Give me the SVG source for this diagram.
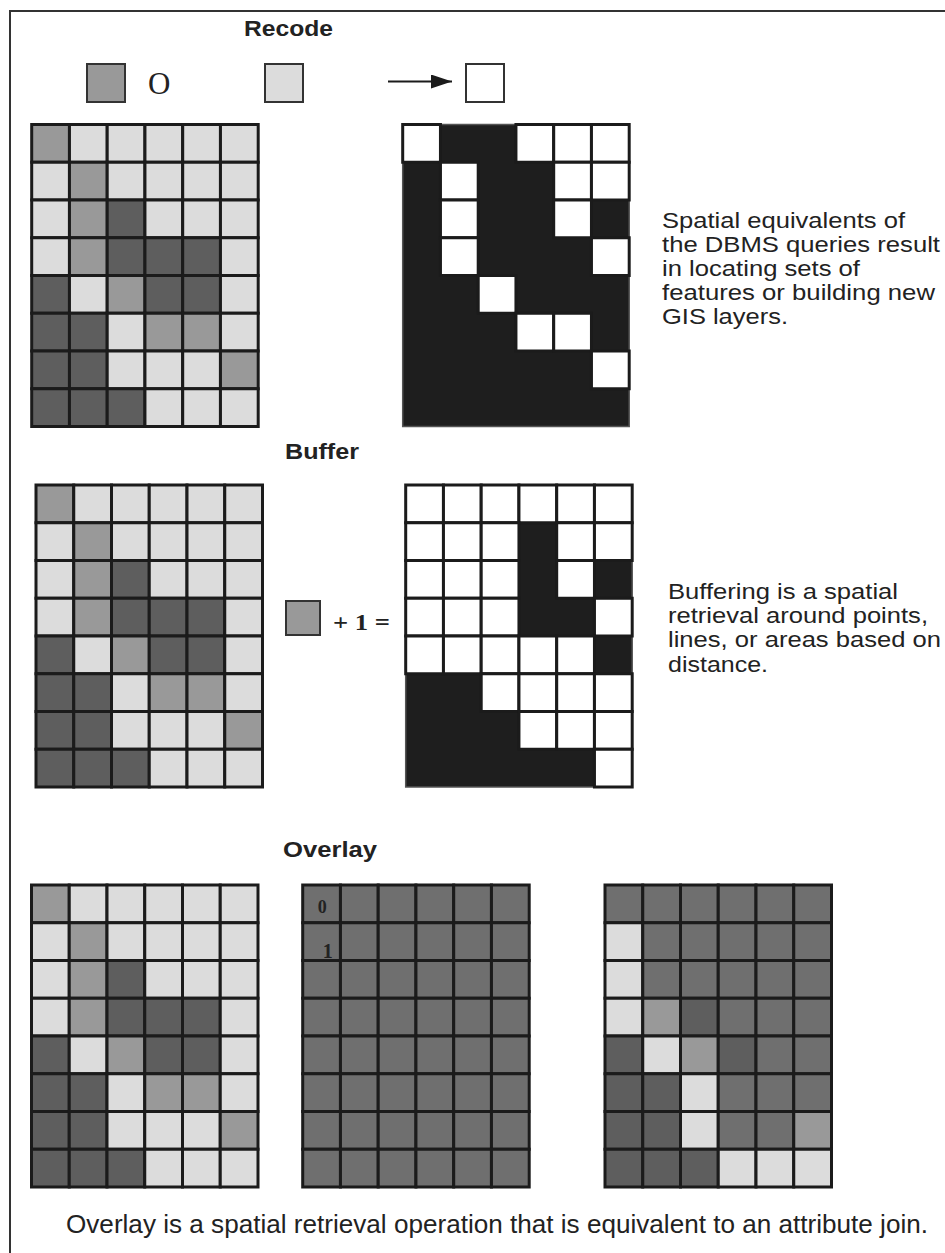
<svg xmlns="http://www.w3.org/2000/svg" xmlns:xlink="http://www.w3.org/1999/xlink" width="945" height="1253" viewBox="0 0 945 1253">
<style>
.c{stroke:#1b1b1b;stroke-width:3}
.L{fill:#dcdcdc}
.M{fill:#999999}
.D{fill:#5e5e5e}
.G{fill:#6f6f6f}
.W{fill:#ffffff}
.bg{fill:#1e1e1e;stroke:#555;stroke-width:1.5}
.title{font-family:"Liberation Sans",Arial,sans-serif;font-weight:bold;font-size:22px;fill:#222}
.body{font-family:"Liberation Sans",Arial,sans-serif;font-size:22.5px;fill:#222}
.serif{font-family:"Liberation Serif","Times New Roman",serif;fill:#222}
.sw{stroke:#333;stroke-width:2}
</style>
<defs>
<marker id="ah" viewBox="0 0 21 14" refX="21" refY="7" markerWidth="21" markerHeight="14" markerUnits="userSpaceOnUse" orient="auto">
<path d="M0,0 L21,7 L0,14 z" fill="#1b1b1b"/>
</marker>
<g id="src">
<rect class="c M" x="0" y="0" width="37.75" height="37.75"/><rect class="c L" x="37.75" y="0" width="37.75" height="37.75"/><rect class="c L" x="75.5" y="0" width="37.75" height="37.75"/><rect class="c L" x="113.25" y="0" width="37.75" height="37.75"/><rect class="c L" x="151" y="0" width="37.75" height="37.75"/><rect class="c L" x="188.75" y="0" width="37.75" height="37.75"/>
<rect class="c L" x="0" y="37.75" width="37.75" height="37.75"/><rect class="c M" x="37.75" y="37.75" width="37.75" height="37.75"/><rect class="c L" x="75.5" y="37.75" width="37.75" height="37.75"/><rect class="c L" x="113.25" y="37.75" width="37.75" height="37.75"/><rect class="c L" x="151" y="37.75" width="37.75" height="37.75"/><rect class="c L" x="188.75" y="37.75" width="37.75" height="37.75"/>
<rect class="c L" x="0" y="75.5" width="37.75" height="37.75"/><rect class="c M" x="37.75" y="75.5" width="37.75" height="37.75"/><rect class="c D" x="75.5" y="75.5" width="37.75" height="37.75"/><rect class="c L" x="113.25" y="75.5" width="37.75" height="37.75"/><rect class="c L" x="151" y="75.5" width="37.75" height="37.75"/><rect class="c L" x="188.75" y="75.5" width="37.75" height="37.75"/>
<rect class="c L" x="0" y="113.25" width="37.75" height="37.75"/><rect class="c M" x="37.75" y="113.25" width="37.75" height="37.75"/><rect class="c D" x="75.5" y="113.25" width="37.75" height="37.75"/><rect class="c D" x="113.25" y="113.25" width="37.75" height="37.75"/><rect class="c D" x="151" y="113.25" width="37.75" height="37.75"/><rect class="c L" x="188.75" y="113.25" width="37.75" height="37.75"/>
<rect class="c D" x="0" y="151" width="37.75" height="37.75"/><rect class="c L" x="37.75" y="151" width="37.75" height="37.75"/><rect class="c M" x="75.5" y="151" width="37.75" height="37.75"/><rect class="c D" x="113.25" y="151" width="37.75" height="37.75"/><rect class="c D" x="151" y="151" width="37.75" height="37.75"/><rect class="c L" x="188.75" y="151" width="37.75" height="37.75"/>
<rect class="c D" x="0" y="188.75" width="37.75" height="37.75"/><rect class="c D" x="37.75" y="188.75" width="37.75" height="37.75"/><rect class="c L" x="75.5" y="188.75" width="37.75" height="37.75"/><rect class="c M" x="113.25" y="188.75" width="37.75" height="37.75"/><rect class="c M" x="151" y="188.75" width="37.75" height="37.75"/><rect class="c L" x="188.75" y="188.75" width="37.75" height="37.75"/>
<rect class="c D" x="0" y="226.5" width="37.75" height="37.75"/><rect class="c D" x="37.75" y="226.5" width="37.75" height="37.75"/><rect class="c L" x="75.5" y="226.5" width="37.75" height="37.75"/><rect class="c L" x="113.25" y="226.5" width="37.75" height="37.75"/><rect class="c L" x="151" y="226.5" width="37.75" height="37.75"/><rect class="c M" x="188.75" y="226.5" width="37.75" height="37.75"/>
<rect class="c D" x="0" y="264.25" width="37.75" height="37.75"/><rect class="c D" x="37.75" y="264.25" width="37.75" height="37.75"/><rect class="c D" x="75.5" y="264.25" width="37.75" height="37.75"/><rect class="c L" x="113.25" y="264.25" width="37.75" height="37.75"/><rect class="c L" x="151" y="264.25" width="37.75" height="37.75"/><rect class="c L" x="188.75" y="264.25" width="37.75" height="37.75"/>
</g>
</defs>
<rect x="0" y="0" width="945" height="1253" fill="#ffffff"/>
<g id="frame" stroke="#333" stroke-width="2" fill="none">
<line x1="10" y1="11" x2="10" y2="1253"/>
<line x1="9" y1="11" x2="945" y2="11"/>
</g>

<g id="recode-title"><text class="title" x="244" y="36" textLength="89" lengthAdjust="spacingAndGlyphs">Recode</text></g>
<g id="recode-legend">
<rect class="M sw" x="87" y="64" width="38" height="38"/>
<text class="serif" x="148" y="94" font-size="31">O</text>
<rect class="L sw" x="265" y="64" width="38" height="38"/>
<rect class="W sw" x="466" y="64" width="38" height="38"/>
</g>
<g id="connectors">
<line x1="388" y1="81.5" x2="452" y2="81.5" stroke="#1b1b1b" stroke-width="2" marker-end="url(#ah)"/>
</g>

<g id="recode-input" transform="translate(31.7,124.5)"><use xlink:href="#src" href="#src"/></g>
<g id="recode-output" transform="translate(402.7,124.5)">
<rect class="bg" x="0" y="0" width="226.5" height="302"/>
<rect class="c W" x="0" y="0" width="37.75" height="37.75"/><rect class="c W" x="113.25" y="0" width="37.75" height="37.75"/><rect class="c W" x="151" y="0" width="37.75" height="37.75"/><rect class="c W" x="188.75" y="0" width="37.75" height="37.75"/>
<rect class="c W" x="37.75" y="37.75" width="37.75" height="37.75"/><rect class="c W" x="151" y="37.75" width="37.75" height="37.75"/><rect class="c W" x="188.75" y="37.75" width="37.75" height="37.75"/>
<rect class="c W" x="37.75" y="75.5" width="37.75" height="37.75"/><rect class="c W" x="151" y="75.5" width="37.75" height="37.75"/>
<rect class="c W" x="37.75" y="113.25" width="37.75" height="37.75"/><rect class="c W" x="188.75" y="113.25" width="37.75" height="37.75"/>
<rect class="c W" x="75.5" y="151" width="37.75" height="37.75"/>
<rect class="c W" x="113.25" y="188.75" width="37.75" height="37.75"/><rect class="c W" x="151" y="188.75" width="37.75" height="37.75"/>
<rect class="c W" x="188.75" y="226.5" width="37.75" height="37.75"/>
</g>
<g id="recode-text">
<text class="body" x="662" y="228" textLength="243" lengthAdjust="spacingAndGlyphs">Spatial equivalents of</text>
<text class="body" x="662" y="252" textLength="278" lengthAdjust="spacingAndGlyphs">the DBMS queries result</text>
<text class="body" x="662" y="276" textLength="198" lengthAdjust="spacingAndGlyphs">in locating sets of</text>
<text class="body" x="662" y="300" textLength="273" lengthAdjust="spacingAndGlyphs">features or building new</text>
<text class="body" x="662" y="324" textLength="126" lengthAdjust="spacingAndGlyphs">GIS layers.</text>
</g>

<g id="buffer-title"><text class="title" x="285" y="459" textLength="74" lengthAdjust="spacingAndGlyphs">Buffer</text></g>
<g id="buffer-input" transform="translate(36,485)"><use xlink:href="#src" href="#src"/></g>
<g id="buffer-legend">
<rect class="M sw" x="286" y="601" width="34" height="34"/>
<text class="serif" x="333" y="630" font-size="23" font-weight="bold" textLength="57" lengthAdjust="spacingAndGlyphs">+ 1 =</text>
</g>
<g id="buffer-output" transform="translate(405.7,485)">
<rect class="bg" x="0" y="0" width="226.5" height="302"/>
<rect class="c W" x="0" y="0" width="37.75" height="37.75"/><rect class="c W" x="37.75" y="0" width="37.75" height="37.75"/><rect class="c W" x="75.5" y="0" width="37.75" height="37.75"/><rect class="c W" x="113.25" y="0" width="37.75" height="37.75"/><rect class="c W" x="151" y="0" width="37.75" height="37.75"/><rect class="c W" x="188.75" y="0" width="37.75" height="37.75"/>
<rect class="c W" x="0" y="37.75" width="37.75" height="37.75"/><rect class="c W" x="37.75" y="37.75" width="37.75" height="37.75"/><rect class="c W" x="75.5" y="37.75" width="37.75" height="37.75"/><rect class="c W" x="151" y="37.75" width="37.75" height="37.75"/><rect class="c W" x="188.75" y="37.75" width="37.75" height="37.75"/>
<rect class="c W" x="0" y="75.5" width="37.75" height="37.75"/><rect class="c W" x="37.75" y="75.5" width="37.75" height="37.75"/><rect class="c W" x="75.5" y="75.5" width="37.75" height="37.75"/><rect class="c W" x="151" y="75.5" width="37.75" height="37.75"/>
<rect class="c W" x="0" y="113.25" width="37.75" height="37.75"/><rect class="c W" x="37.75" y="113.25" width="37.75" height="37.75"/><rect class="c W" x="75.5" y="113.25" width="37.75" height="37.75"/><rect class="c W" x="188.75" y="113.25" width="37.75" height="37.75"/>
<rect class="c W" x="0" y="151" width="37.75" height="37.75"/><rect class="c W" x="37.75" y="151" width="37.75" height="37.75"/><rect class="c W" x="75.5" y="151" width="37.75" height="37.75"/><rect class="c W" x="113.25" y="151" width="37.75" height="37.75"/><rect class="c W" x="151" y="151" width="37.75" height="37.75"/>
<rect class="c W" x="75.5" y="188.75" width="37.75" height="37.75"/><rect class="c W" x="113.25" y="188.75" width="37.75" height="37.75"/><rect class="c W" x="151" y="188.75" width="37.75" height="37.75"/><rect class="c W" x="188.75" y="188.75" width="37.75" height="37.75"/>
<rect class="c W" x="113.25" y="226.5" width="37.75" height="37.75"/><rect class="c W" x="151" y="226.5" width="37.75" height="37.75"/><rect class="c W" x="188.75" y="226.5" width="37.75" height="37.75"/>
<rect class="c W" x="188.75" y="264.25" width="37.75" height="37.75"/>
</g>
<g id="buffer-text">
<text class="body" x="668" y="599" textLength="230" lengthAdjust="spacingAndGlyphs">Buffering is a spatial</text>
<text class="body" x="668" y="623" textLength="260" lengthAdjust="spacingAndGlyphs">retrieval around points,</text>
<text class="body" x="668" y="647" textLength="273" lengthAdjust="spacingAndGlyphs">lines, or areas based on</text>
<text class="body" x="668" y="671.5" textLength="100" lengthAdjust="spacingAndGlyphs">distance.</text>
</g>

<g id="overlay-title"><text class="title" x="283" y="857" textLength="94" lengthAdjust="spacingAndGlyphs">Overlay</text></g>
<g id="overlay-input" transform="translate(31.5,885)"><use xlink:href="#src" href="#src"/></g>
<g id="overlay-mask" transform="translate(302.7,885)">
<rect class="c G" x="0" y="0" width="37.75" height="37.75"/><rect class="c G" x="37.75" y="0" width="37.75" height="37.75"/><rect class="c G" x="75.5" y="0" width="37.75" height="37.75"/><rect class="c G" x="113.25" y="0" width="37.75" height="37.75"/><rect class="c G" x="151" y="0" width="37.75" height="37.75"/><rect class="c G" x="188.75" y="0" width="37.75" height="37.75"/>
<rect class="c G" x="0" y="37.75" width="37.75" height="37.75"/><rect class="c G" x="37.75" y="37.75" width="37.75" height="37.75"/><rect class="c G" x="75.5" y="37.75" width="37.75" height="37.75"/><rect class="c G" x="113.25" y="37.75" width="37.75" height="37.75"/><rect class="c G" x="151" y="37.75" width="37.75" height="37.75"/><rect class="c G" x="188.75" y="37.75" width="37.75" height="37.75"/>
<rect class="c G" x="0" y="75.5" width="37.75" height="37.75"/><rect class="c G" x="37.75" y="75.5" width="37.75" height="37.75"/><rect class="c G" x="75.5" y="75.5" width="37.75" height="37.75"/><rect class="c G" x="113.25" y="75.5" width="37.75" height="37.75"/><rect class="c G" x="151" y="75.5" width="37.75" height="37.75"/><rect class="c G" x="188.75" y="75.5" width="37.75" height="37.75"/>
<rect class="c G" x="0" y="113.25" width="37.75" height="37.75"/><rect class="c G" x="37.75" y="113.25" width="37.75" height="37.75"/><rect class="c G" x="75.5" y="113.25" width="37.75" height="37.75"/><rect class="c G" x="113.25" y="113.25" width="37.75" height="37.75"/><rect class="c G" x="151" y="113.25" width="37.75" height="37.75"/><rect class="c G" x="188.75" y="113.25" width="37.75" height="37.75"/>
<rect class="c G" x="0" y="151" width="37.75" height="37.75"/><rect class="c G" x="37.75" y="151" width="37.75" height="37.75"/><rect class="c G" x="75.5" y="151" width="37.75" height="37.75"/><rect class="c G" x="113.25" y="151" width="37.75" height="37.75"/><rect class="c G" x="151" y="151" width="37.75" height="37.75"/><rect class="c G" x="188.75" y="151" width="37.75" height="37.75"/>
<rect class="c G" x="0" y="188.75" width="37.75" height="37.75"/><rect class="c G" x="37.75" y="188.75" width="37.75" height="37.75"/><rect class="c G" x="75.5" y="188.75" width="37.75" height="37.75"/><rect class="c G" x="113.25" y="188.75" width="37.75" height="37.75"/><rect class="c G" x="151" y="188.75" width="37.75" height="37.75"/><rect class="c G" x="188.75" y="188.75" width="37.75" height="37.75"/>
<rect class="c G" x="0" y="226.5" width="37.75" height="37.75"/><rect class="c G" x="37.75" y="226.5" width="37.75" height="37.75"/><rect class="c G" x="75.5" y="226.5" width="37.75" height="37.75"/><rect class="c G" x="113.25" y="226.5" width="37.75" height="37.75"/><rect class="c G" x="151" y="226.5" width="37.75" height="37.75"/><rect class="c G" x="188.75" y="226.5" width="37.75" height="37.75"/>
<rect class="c G" x="0" y="264.25" width="37.75" height="37.75"/><rect class="c G" x="37.75" y="264.25" width="37.75" height="37.75"/><rect class="c G" x="75.5" y="264.25" width="37.75" height="37.75"/><rect class="c G" x="113.25" y="264.25" width="37.75" height="37.75"/><rect class="c G" x="151" y="264.25" width="37.75" height="37.75"/><rect class="c G" x="188.75" y="264.25" width="37.75" height="37.75"/>
<text class="serif" x="15" y="28" font-size="18" font-weight="bold">0</text>
<text class="serif" x="20" y="73" font-size="20" font-weight="bold">1</text>
</g>
<g id="overlay-output" transform="translate(605,885)">
<rect class="c G" x="0" y="0" width="37.75" height="37.75"/><rect class="c G" x="37.75" y="0" width="37.75" height="37.75"/><rect class="c G" x="75.5" y="0" width="37.75" height="37.75"/><rect class="c G" x="113.25" y="0" width="37.75" height="37.75"/><rect class="c G" x="151" y="0" width="37.75" height="37.75"/><rect class="c G" x="188.75" y="0" width="37.75" height="37.75"/>
<rect class="c L" x="0" y="37.75" width="37.75" height="37.75"/><rect class="c G" x="37.75" y="37.75" width="37.75" height="37.75"/><rect class="c G" x="75.5" y="37.75" width="37.75" height="37.75"/><rect class="c G" x="113.25" y="37.75" width="37.75" height="37.75"/><rect class="c G" x="151" y="37.75" width="37.75" height="37.75"/><rect class="c G" x="188.75" y="37.75" width="37.75" height="37.75"/>
<rect class="c L" x="0" y="75.5" width="37.75" height="37.75"/><rect class="c G" x="37.75" y="75.5" width="37.75" height="37.75"/><rect class="c G" x="75.5" y="75.5" width="37.75" height="37.75"/><rect class="c G" x="113.25" y="75.5" width="37.75" height="37.75"/><rect class="c G" x="151" y="75.5" width="37.75" height="37.75"/><rect class="c G" x="188.75" y="75.5" width="37.75" height="37.75"/>
<rect class="c L" x="0" y="113.25" width="37.75" height="37.75"/><rect class="c M" x="37.75" y="113.25" width="37.75" height="37.75"/><rect class="c D" x="75.5" y="113.25" width="37.75" height="37.75"/><rect class="c G" x="113.25" y="113.25" width="37.75" height="37.75"/><rect class="c G" x="151" y="113.25" width="37.75" height="37.75"/><rect class="c G" x="188.75" y="113.25" width="37.75" height="37.75"/>
<rect class="c D" x="0" y="151" width="37.75" height="37.75"/><rect class="c L" x="37.75" y="151" width="37.75" height="37.75"/><rect class="c M" x="75.5" y="151" width="37.75" height="37.75"/><rect class="c D" x="113.25" y="151" width="37.75" height="37.75"/><rect class="c G" x="151" y="151" width="37.75" height="37.75"/><rect class="c G" x="188.75" y="151" width="37.75" height="37.75"/>
<rect class="c D" x="0" y="188.75" width="37.75" height="37.75"/><rect class="c D" x="37.75" y="188.75" width="37.75" height="37.75"/><rect class="c L" x="75.5" y="188.75" width="37.75" height="37.75"/><rect class="c G" x="113.25" y="188.75" width="37.75" height="37.75"/><rect class="c G" x="151" y="188.75" width="37.75" height="37.75"/><rect class="c G" x="188.75" y="188.75" width="37.75" height="37.75"/>
<rect class="c D" x="0" y="226.5" width="37.75" height="37.75"/><rect class="c D" x="37.75" y="226.5" width="37.75" height="37.75"/><rect class="c L" x="75.5" y="226.5" width="37.75" height="37.75"/><rect class="c G" x="113.25" y="226.5" width="37.75" height="37.75"/><rect class="c G" x="151" y="226.5" width="37.75" height="37.75"/><rect class="c M" x="188.75" y="226.5" width="37.75" height="37.75"/>
<rect class="c D" x="0" y="264.25" width="37.75" height="37.75"/><rect class="c D" x="37.75" y="264.25" width="37.75" height="37.75"/><rect class="c D" x="75.5" y="264.25" width="37.75" height="37.75"/><rect class="c L" x="113.25" y="264.25" width="37.75" height="37.75"/><rect class="c L" x="151" y="264.25" width="37.75" height="37.75"/><rect class="c L" x="188.75" y="264.25" width="37.75" height="37.75"/>
</g>
<g id="overlay-text">
<text class="body" x="66" y="1233" font-size="25" style="font-size:25px" textLength="862" lengthAdjust="spacingAndGlyphs">Overlay is a spatial retrieval operation that is equivalent to an attribute join.</text>
</g>
</svg>
